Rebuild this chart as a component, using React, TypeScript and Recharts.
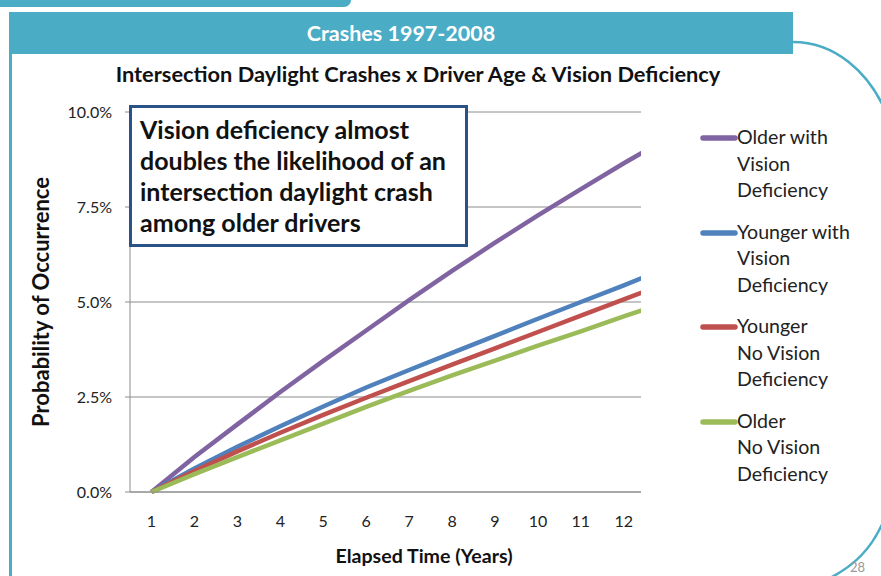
import React from 'react';
import { LineChart, Line, XAxis, YAxis, CartesianGrid } from 'recharts';

const years = [1, 2, 3, 4, 5, 6, 7, 8, 9, 10, 11, 12, 13];
const olderWithVision = [0, 0.92, 1.78, 2.63, 3.45, 4.25, 5.05, 5.82, 6.56, 7.28, 7.97, 8.65, 9.3];
const youngerWithVision = [0, 0.62, 1.19, 1.73, 2.25, 2.75, 3.21, 3.66, 4.11, 4.56, 5.0, 5.44, 5.89];
const youngerNoVision = [0, 0.55, 1.07, 1.56, 2.03, 2.48, 2.92, 3.35, 3.78, 4.21, 4.64, 5.07, 5.5];
const olderNoVision = [0, 0.47, 0.92, 1.36, 1.8, 2.24, 2.66, 3.07, 3.46, 3.85, 4.23, 4.62, 5.0];

const xTicks = [1, 2, 3, 4, 5, 6, 7, 8, 9, 10, 11, 12];
const bandEdges = [0.5, 1.5, 2.5, 3.5, 4.5, 5.5, 6.5, 7.5, 8.5, 9.5, 10.5, 11.5];
const yTicks = [0, 2.5, 5, 7.5, 10];

const seriesKeys = ['ov', 'yv', 'yn', 'on'];
const seriesColors = ['#8064A2', '#4F81BD', '#C0504D', '#9BBB59'];
const legendLines = [
  ['Older with', 'Vision', 'Deficiency'],
  ['Younger with', 'Vision', 'Deficiency'],
  ['Younger', 'No Vision', 'Deficiency'],
  ['Older', 'No Vision', 'Deficiency'],
];

const bannerText = 'Crashes 1997-2008';
const chartTitle = 'Intersection Daylight Crashes x Driver Age & Vision Deficiency';
const yLabel = 'Probability of Occurrence';
const xLabel = 'Elapsed Time (Years)';
const noteLines = [
  'Vision deficiency almost',
  'doubles the likelihood of an',
  'intersection daylight crash',
  'among older drivers',
];
const pageNumber = '28';

const data = years.map((year, i) => ({
  year,
  ov: olderWithVision[i],
  yv: youngerWithVision[i],
  yn: youngerNoVision[i],
  on: olderNoVision[i],
}));

const FONT = 'Lato, "Open Sans", sans-serif';
const TEAL = '#4BACC6';
const GRID = '#8c8c8c';

export default function App() {
  return (
    <div
      style={{
        position: 'absolute',
        left: 0,
        top: 0,
        width: 881,
        height: 576,
        overflow: 'hidden',
        background: '#ffffff',
        fontFamily: FONT,
      }}
    >
      {/* slide decorations */}
      <div style={{ position: 'absolute', left: 0, top: 0, width: 351, height: 7, background: TEAL, borderBottomRightRadius: 7 }} />
      <div style={{ position: 'absolute', left: 9, top: 12, width: 784, height: 42, background: TEAL }} />
      <div style={{ position: 'absolute', left: 9, top: 54, width: 3, height: 522, background: TEAL }} />

      <div style={{ position: 'absolute', left: 0, top: 0 }}>
        <LineChart
          width={881}
          height={576}
          data={data}
          margin={{ top: 112, right: 240, bottom: 44, left: 70 }}
        >
          <CartesianGrid horizontal={true} vertical={false} stroke={GRID} strokeWidth={1} />
          <XAxis
            dataKey="year"
            type="number"
            domain={[0.5, 12.4]}
            allowDataOverflow={true}
            ticks={xTicks}
            interval={0}
            height={40}
            tickLine={false}
            tickSize={6}
            tickMargin={18}
            axisLine={{ stroke: GRID }}
            tick={{ fill: '#222', fontSize: 16, fontFamily: FONT }}
          />
          <XAxis
            xAxisId="edges"
            type="number"
            domain={[0.5, 12.4]}
            allowDataOverflow={true}
            ticks={bandEdges}
            interval={0}
            mirror={true}
            tick={false}
            tickSize={5}
            tickLine={{ stroke: GRID }}
            axisLine={false}
          />
          <YAxis
            type="number"
            domain={[0, 10]}
            ticks={yTicks}
            interval={0}
            width={60}
            tickSize={5}
            tickMargin={13}
            tickLine={{ stroke: GRID }}
            axisLine={{ stroke: GRID }}
            tickFormatter={(v: number) => v.toFixed(1) + '%'}
            tick={{ fill: '#222', fontSize: 16, fontFamily: FONT }}
          />
          {seriesKeys.map((k, i) => (
            <Line
              key={k}
              type="linear"
              dataKey={k}
              stroke={seriesColors[i]}
              strokeWidth={4.5}
              dot={false}
              activeDot={false}
              isAnimationActive={false}
            />
          ))}
        </LineChart>
      </div>

      {/* text overlay */}
      <svg width={881} height={576} style={{ position: 'absolute', left: 0, top: 0, pointerEvents: 'none' }}>
        <text x={401} y={41} textAnchor="middle" fill="#ffffff" fontSize={21.5} fontWeight={700} fontFamily={FONT}>
          {bannerText}
        </text>
        <text x={418} y={82} textAnchor="middle" fill="#111" fontSize={21.8} fontWeight={700} fontFamily={FONT}>
          {chartTitle}
        </text>
        <text
          x={49}
          y={302}
          transform="rotate(-90 49 302)"
          textAnchor="middle"
          fill="#111"
          fontSize={22}
          fontWeight={700}
          fontFamily={FONT}
        >
          {yLabel}
        </text>
        <text x={424} y={563} textAnchor="middle" fill="#111" fontSize={19.6} fontWeight={700} fontFamily={FONT}>
          {xLabel}
        </text>
        <path d="M 793 42 C 835 42, 868 72, 885 110" stroke={TEAL} strokeWidth={2.5} fill="none" />
        <path d="M 884 520 C 872 548, 855 566, 826 580" stroke={TEAL} strokeWidth={2.5} fill="none" />
        <text x={850} y={572} fill="#999" fontSize={13} fontFamily={FONT}>
          {pageNumber}
        </text>
      </svg>

      {/* annotation */}
      <div
        style={{
          position: 'absolute',
          left: 129,
          top: 105,
          width: 325,
          height: 130,
          border: '3px solid #2B5286',
          background: '#ffffff',
          padding: '6px 0 0 8px',
          boxSizing: 'content-box',
          fontSize: 25,
          fontWeight: 700,
          lineHeight: '31px',
          color: '#111',
          whiteSpace: 'nowrap',
        }}
      >
        {noteLines.map((l, i) => (
          <div key={i}>{l}</div>
        ))}
      </div>

      {/* legend */}
      <div style={{ position: 'absolute', left: 700, top: 124 }}>
        {legendLines.map((lines, i) => (
          <div key={i} style={{ position: 'relative', height: 94.5 }}>
            <svg width={38} height={10} style={{ position: 'absolute', left: 0, top: 9 }}>
              <line x1={3} y1={5} x2={35} y2={5} stroke={seriesColors[i]} strokeWidth={5.5} strokeLinecap="round" />
            </svg>
            <div style={{ position: 'absolute', left: 37, top: 0, fontSize: 19.6, lineHeight: '26.5px', color: '#222', whiteSpace: 'nowrap' }}>
              {lines.map((t, j) => (
                <div key={j}>{t}</div>
              ))}
            </div>
          </div>
        ))}
      </div>
    </div>
  );
}
